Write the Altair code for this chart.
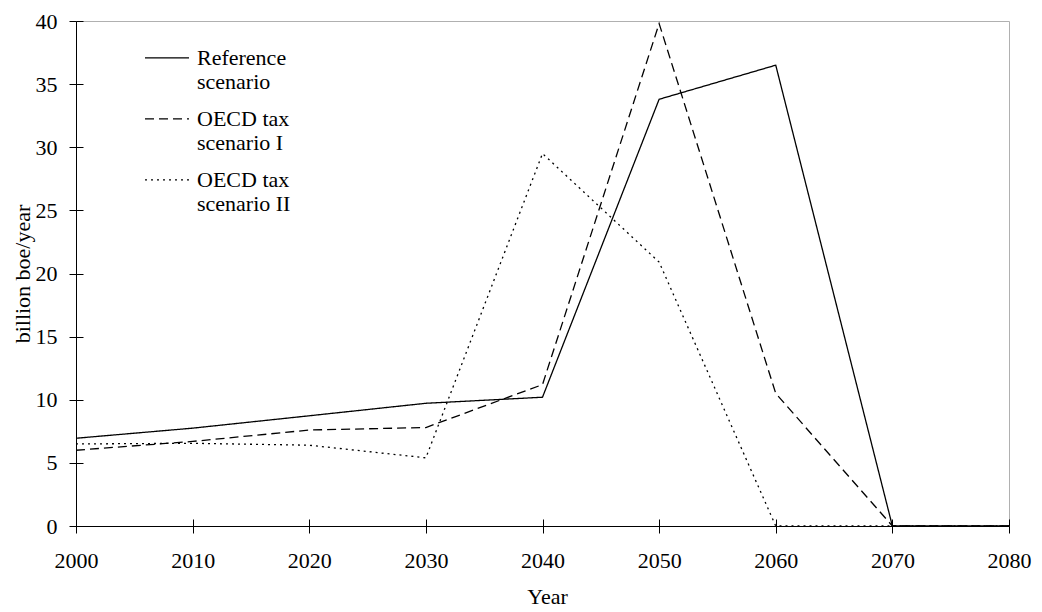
import altair as alt
import pandas as pd

# ---- data ----
years = [2000, 2010, 2020, 2030, 2040, 2050, 2060, 2070, 2080]
reference = [6.95, 7.75, 8.73, 9.72, 10.2, 33.8, 36.5, 0, 0]
oecd_tax_1 = [6.0, 6.7, 7.6, 7.8, 11.2, 39.8, 10.5, 0, 0]
oecd_tax_2 = [6.5, 6.55, 6.4, 5.4, 29.5, 20.9, 0, 0, 0]
series_names = ["Reference scenario", "OECD tax scenario I", "OECD tax scenario II"]
x_ticks = [2000, 2010, 2020, 2030, 2040, 2050, 2060, 2070, 2080]
y_ticks = [0, 5, 10, 15, 20, 25, 30, 35, 40]

rows = []
for name, vals in zip(series_names, [reference, oecd_tax_1, oecd_tax_2]):
    for yr, v in zip(years, vals):
        rows.append({"Year": yr, "value": v, "series": name})
df = pd.DataFrame(rows)

FONT = "Liberation Serif"
FS = 22
W, H = 933, 505

x_scale = alt.Scale(domain=[2000, 2080], nice=False, zero=False)
y_scale = alt.Scale(domain=[0, 40], nice=False)

label_expr = (
    "datum.label == 'Reference scenario' ? ['Reference', 'scenario'] : "
    "datum.label == 'OECD tax scenario I' ? ['OECD tax', 'scenario I'] : "
    "['OECD tax', 'scenario II']"
)

legend = alt.Legend(
    title=None, orient="none", legendX=68, legendY=21, padding=0,
    symbolType="M-1,-0.32L1,-0.32", symbolSize=1936, symbolStrokeWidth=1.3,
    symbolStrokeColor="black", symbolFillColor="transparent",
    labelFont=FONT, labelFontSize=FS, labelColor="black",
    labelBaseline="alphabetic", labelOffset=7, labelLimit=400,
    rowPadding=10, labelExpr=label_expr,
)

lines = alt.Chart(df).mark_line(color="black", strokeWidth=1.3).encode(
    x=alt.X("Year:Q", scale=x_scale, axis=alt.Axis(
        values=x_ticks, format="d", orient="bottom",
        labelFont=FONT, labelFontSize=FS, labelColor="black", labelPadding=17,
        labelFlush=False, labelOverlap=False,
        tickSize=7, tickColor="black", tickWidth=1,
        domainColor="black", domainWidth=1, grid=False,
        title="Year", titleFont=FONT, titleFontSize=FS, titleFontWeight="normal",
        titleColor="black", titleX=471, titleY=77, titleBaseline="alphabetic",
        titleAlign="center")),
    y=alt.Y("value:Q", scale=y_scale, axis=alt.Axis(
        values=y_ticks, orient="left",
        labelFont=FONT, labelFontSize=FS, labelColor="black", labelPadding=12,
        tickSize=7, tickColor="black", tickWidth=1,
        domainColor="black", domainWidth=1, grid=False,
        title="billion boe/year", titleFont=FONT, titleFontSize=FS,
        titleFontWeight="normal", titleColor="black", titleAngle=270,
        titleX=-47, titleY=H / 2, titleBaseline="alphabetic", titleAlign="center")),
    strokeDash=alt.StrokeDash("series:N", sort=series_names,
                              scale=alt.Scale(domain=series_names,
                                              range=[[1, 0], [9, 5], [2, 4]]),
                              legend=legend),
)

# invisible layer carrying the inner halves of the crossing tick marks
inner_ticks = alt.Chart(df).mark_line(opacity=0).encode(
    x=alt.X("Year:Q", scale=x_scale, axis=alt.Axis(
        values=x_ticks, orient="bottom", offset=-7, tickSize=7, tickColor="black",
        labels=False, domain=False, grid=False, title=None)),
    y=alt.Y("value:Q", scale=y_scale, axis=alt.Axis(
        values=y_ticks, orient="left", offset=-7, tickSize=7, tickColor="black",
        labels=False, domain=False, grid=False, title=None)),
    detail="series:N",
)

chart = alt.layer(lines, inner_ticks).resolve_axis(
    x="independent", y="independent"
).properties(
    width=W, height=H,
    autosize=alt.AutoSizeParams(type="none"),
    padding={"left": 68, "top": 13, "right": 25, "bottom": 86},
    background="white",
).configure_view(stroke="#b0b0b0", strokeWidth=1)

chart.save("out.html", embed_options={"renderer": "svg", "actions": False})
